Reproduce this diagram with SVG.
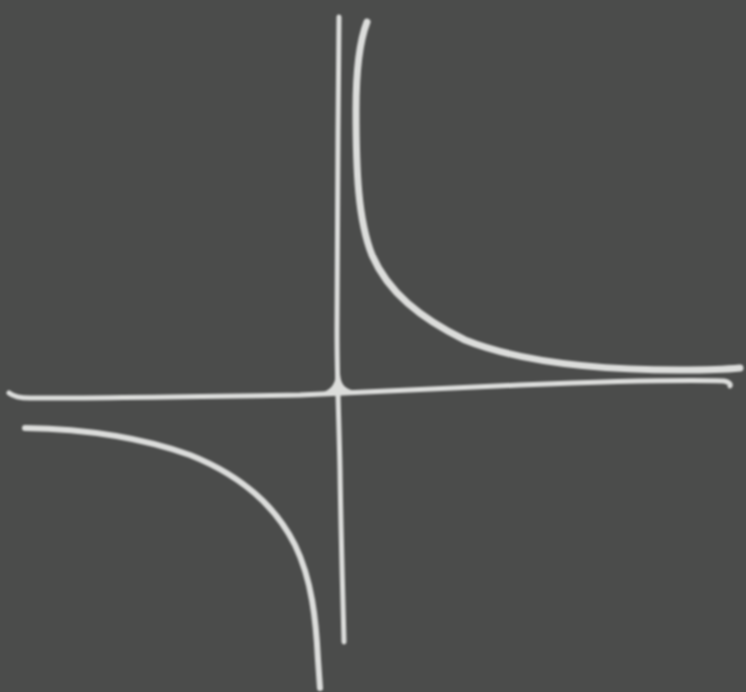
<svg xmlns="http://www.w3.org/2000/svg" width="746" height="692" viewBox="0 0 746 692">
<defs>
<filter id="soft"><feGaussianBlur stdDeviation="0.8"/></filter>
</defs>
<style>
.chalk{fill:none;stroke:#dcdddb;stroke-linecap:round;stroke-linejoin:round}
</style>
<rect width="746" height="692" fill="#4b4c4b"/>
<g filter="url(#soft)">
<g id="axes">
<path class="chalk" stroke-width="5" d="M339,17 C338,120 337,250 337,330 C337,380 339,420 340,470 C341,540 343,600 344,642"/>
<path class="chalk" stroke-width="5" d="M9,393 C13,396 18,398 30,398 C120,398 230,396 300,395 C360,392 420,389 520,385 C620,381 690,380 724,381 C729,382 731,384 730,386"/>
<path d="M324,392 C332,388 335,384 336,374 L340,374 C341,384 344,388 354,391 Z" fill="#dcdddb"/>
</g>
<g id="hyperbola">
<path class="chalk" stroke-width="7" d="M367,22 C360,40 356,70 356,110 C356,170 358,220 372,255 C388,292 420,318 465,340 C520,362 600,370 680,370 C710,370 730,369 740,368"/>
<path class="chalk" stroke-width="6" d="M25,428 C80,429 140,437 190,455 C240,475 275,505 295,545 C312,580 316,620 318,660 L320,688"/>
</g>
</g>
</svg>
